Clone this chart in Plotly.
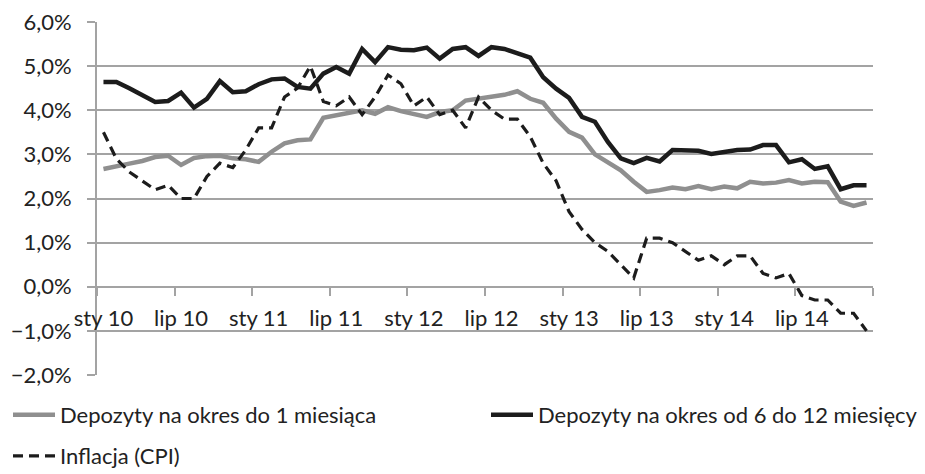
import plotly.graph_objects as go

# Monthly data, Jan 2010 .. Dec 2014 (index 0..59)
month_idx = list(range(60))

dep_1m = [2.67, 2.74, 2.79, 2.85, 2.94, 2.97, 2.76, 2.92, 2.96, 2.97, 2.91, 2.89,
          2.83, 3.06, 3.25, 3.32, 3.34, 3.83, 3.89, 3.96, 4.00, 3.92, 4.07, 3.98,
          3.91, 3.85, 3.96, 4.00, 4.22, 4.26, 4.30, 4.35, 4.43, 4.26, 4.17, 3.81,
          3.51, 3.38, 3.00, 2.81, 2.64, 2.38, 2.15, 2.19, 2.25, 2.21, 2.28, 2.21,
          2.27, 2.23, 2.38, 2.34, 2.36, 2.42, 2.34, 2.38, 2.37, 1.93, 1.83, 1.91]

dep_6_12m = [4.64, 4.64, 4.50, 4.35, 4.19, 4.21, 4.40, 4.06, 4.26, 4.66, 4.41, 4.43,
             4.59, 4.70, 4.72, 4.53, 4.49, 4.83, 4.98, 4.83, 5.39, 5.09, 5.43, 5.37,
             5.36, 5.42, 5.17, 5.39, 5.43, 5.23, 5.43, 5.39, 5.28, 5.19, 4.75, 4.49,
             4.28, 3.85, 3.74, 3.28, 2.91, 2.80, 2.92, 2.84, 3.10, 3.10, 3.08, 3.01,
             3.06, 3.10, 3.11, 3.21, 3.21, 2.82, 2.89, 2.67, 2.73, 2.21, 2.30, 2.30]

cpi = [3.5, 2.9, 2.6, 2.4, 2.2, 2.3, 2.0, 2.0, 2.5, 2.8, 2.7, 3.1,
       3.6, 3.6, 4.3, 4.5, 5.0, 4.2, 4.1, 4.3, 3.9, 4.3, 4.8, 4.6,
       4.1, 4.3, 3.9, 4.0, 3.6, 4.3, 4.0, 3.8, 3.8, 3.4, 2.8, 2.4,
       1.7, 1.3, 1.0, 0.8, 0.5, 0.2, 1.1, 1.1, 1.0, 0.8, 0.6, 0.7,
       0.5, 0.7, 0.7, 0.3, 0.2, 0.3, -0.2, -0.3, -0.3, -0.6, -0.6, -1.0]

series_names = ["Depozyty na okres do 1 miesiąca",
                "Depozyty na okres od 6 do 12 miesięcy",
                "Inflacja (CPI)"]

x_tick_pos = [0, 6, 12, 18, 24, 30, 36, 42, 48, 54]
x_tick_labels = ["sty 10", "lip 10", "sty 11", "lip 11", "sty 12",
                 "lip 12", "sty 13", "lip 13", "sty 14", "lip 14"]

y_tick_vals = [-2, -1, 0, 1, 2, 3, 4, 5, 6]
y_tick_labels = ["\u22122,0%", "\u22121,0%", "0,0%", "1,0%", "2,0%",
                 "3,0%", "4,0%", "5,0%", "6,0%"]

FONT = "Lato, 'Open Sans', sans-serif"
GRID = "#a3a3a3"
TXT = "#222222"

W, H = 925, 474

fig = go.Figure()
fig.add_trace(go.Scatter(x=month_idx, y=dep_1m, mode="lines", name=series_names[0],
                         line=dict(color="#8f8f8f", width=4.5), legend="legend"))
fig.add_trace(go.Scatter(x=month_idx, y=dep_6_12m, mode="lines", name=series_names[1],
                         line=dict(color="#1c1c1c", width=4.5), legend="legend2"))
fig.add_trace(go.Scatter(x=month_idx, y=cpi, mode="lines", name=series_names[2],
                         line=dict(color="#1c1c1c", width=3.2, dash="10px,6px"),
                         legend="legend3"))

legend_common = dict(orientation="h", xref="container", yref="container",
                     xanchor="left", yanchor="middle", bgcolor="rgba(0,0,0,0)",
                     font=dict(family=FONT, size=22, color=TXT),
                     itemwidth=42)

fig.update_layout(
    width=W, height=H,
    margin=dict(l=97, r=52, t=22, b=99, autoexpand=False),
    paper_bgcolor="white", plot_bgcolor="white",
    font=dict(family=FONT, size=22, color=TXT),
    showlegend=True,
    legend=dict(x=8 / W, y=1 - 415 / H, **legend_common),
    legend2=dict(x=486 / W, y=1 - 415 / H, **legend_common),
    legend3=dict(x=8 / W, y=1 - 456 / H, **legend_common),
    xaxis=dict(
        range=[-0.5, 59.5], anchor="free", position=0.25,
        showgrid=False, zeroline=False,
        showline=True, linecolor=GRID, linewidth=2,
        tickmode="array", tickvals=x_tick_pos, ticktext=x_tick_labels,
        ticks="outside", ticklen=8, tickcolor="rgba(0,0,0,0)",
        ticklabelstandoff=4,
        minor=dict(tickmode="linear", tick0=-0.5, dtick=6, ticks="outside",
                   ticklen=8, tickwidth=2, tickcolor=GRID, showgrid=False),
        tickfont=dict(family=FONT, size=22, color=TXT),
    ),
    yaxis=dict(
        range=[-2, 6], showgrid=True, gridcolor=GRID, gridwidth=2,
        zeroline=False, showline=True, linecolor=GRID, linewidth=2,
        tickmode="array", tickvals=y_tick_vals, ticktext=y_tick_labels,
        ticks="outside", ticklen=8, tickwidth=2, tickcolor=GRID,
        ticklabelstandoff=11,
        tickfont=dict(family=FONT, size=22, color=TXT),
    ),
)

# Remove the browser's default 8px body margin so the figure fills the window.
fig.write_html("out.html",
               config={"displayModeBar": False},
               post_script="document.body.style.margin='0';"
                           "document.body.style.overflow='hidden';")
